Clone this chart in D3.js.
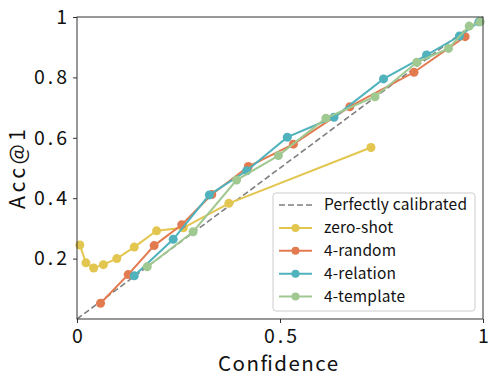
<!DOCTYPE html>
<html><head><meta charset="utf-8">
<script src="https://cdn.jsdelivr.net/npm/d3@7"></script>
<style>body{margin:0;background:#fff;} svg{display:block;font-family:"Noto Sans CJK JP","Noto Sans",sans-serif;}</style>
</head><body><svg id="c" width="498" height="383"></svg>
<script>
const zeroShotX = [0.007,0.022,0.041,0.065,0.098,0.141,0.196,0.262,0.374,0.724];
const zeroShotY = [0.245,0.186,0.169,0.180,0.200,0.238,0.292,0.302,0.383,0.568];
const randomX = [0.058,0.126,0.190,0.258,0.332,0.422,0.533,0.672,0.830,0.956];
const randomY = [0.052,0.147,0.243,0.312,0.412,0.505,0.579,0.703,0.817,0.935];
const relationX = [0.141,0.237,0.326,0.418,0.518,0.633,0.755,0.861,0.942,0.990];
const relationY = [0.143,0.264,0.411,0.491,0.602,0.668,0.795,0.874,0.937,0.984];
const templateX = [0.173,0.286,0.393,0.496,0.613,0.734,0.837,0.915,0.966,0.993];
const templateY = [0.173,0.289,0.460,0.541,0.665,0.736,0.850,0.896,0.970,0.984];
const xTicks = [0,0.5,1];
const yTicks = [0.2,0.4,0.6,0.8,1];
const seriesNames = ["zero-shot","4-random","4-relation","4-template"];
const seriesColors = ["#E3C64F","#E37B50","#4FB2BC","#A0C891"];

const series = [[zeroShotX,zeroShotY],[randomX,randomY],[relationX,relationY],[templateX,templateY]]
  .map((s,i)=>({name:seriesNames[i],color:seriesColors[i],pts:s[0].map((x,j)=>[x,s[1][j]])}));

const svg = d3.select("#c");
const x = d3.scaleLinear().domain([0,1]).range([77,483]);
const y = d3.scaleLinear().domain([0,1]).range([319,17]);
const fmt = d=> d===0?"0":d===1?"1":String(d);

svg.append("line").attr("x1",x(0)).attr("y1",y(0)).attr("x2",x(1)).attr("y2",y(1))
  .attr("stroke","#7f7f7f").attr("stroke-width",1.6).attr("stroke-dasharray","6,3");

const line = d3.line().x(d=>x(d[0])).y(d=>y(d[1]));
series.forEach(s=>{
  svg.append("path").attr("d",line(s.pts)).attr("fill","none").attr("stroke",s.color).attr("stroke-width",2);
  svg.selectAll(null).data(s.pts).enter().append("circle")
    .attr("cx",d=>x(d[0])).attr("cy",d=>y(d[1])).attr("r",4.5).attr("fill",s.color);
});

svg.append("rect").attr("x",77).attr("y",17).attr("width",406).attr("height",302)
  .attr("fill","none").attr("stroke","#333").attr("stroke-width",1);

const xa = svg.append("g").attr("transform","translate(0,319)")
  .call(d3.axisBottom(x).tickValues(xTicks).tickFormat(fmt).tickSize(4).tickPadding(6));
const ya = svg.append("g").attr("transform","translate(77,0)")
  .call(d3.axisLeft(y).tickValues(yTicks).tickFormat(fmt).tickSize(4).tickPadding(6));
[xa,ya].forEach(a=>{
  a.select(".domain").remove();
  a.selectAll(".tick line").attr("stroke","#333");
  a.selectAll("text").attr("font-size",19.5).attr("fill","#111").attr("font-family","Noto Sans CJK JP")
    .each(function(){ const t=d3.select(this); if(t.text().length>1) t.attr("textLength",33).attr("lengthAdjust","spacing"); });
});

svg.append("text").attr("x",278).attr("y",370.5).attr("text-anchor","middle")
  .attr("font-size",20.5).attr("fill","#111").attr("textLength",120).attr("lengthAdjust","spacing").text("Confidence");
svg.append("text").attr("transform","translate(25,169) rotate(-90)").attr("text-anchor","middle")
  .attr("font-size",21.5).attr("fill","#111").attr("textLength",80).attr("lengthAdjust","spacing").text("Acc@1");

const lg = svg.append("g");
lg.append("rect").attr("x",273).attr("y",193).attr("width",202).attr("height",118).attr("rx",3)
  .attr("fill","#fff").attr("fill-opacity",0.85).attr("stroke","#ccc").attr("stroke-width",1);
const items = [{name:"Perfectly calibrated",color:"#7f7f7f",dash:true}].concat(series);
const legendWidths = [143,69,72,72,81];
items.forEach((it,i)=>{
  const yy = 205 + i*22.9;
  lg.append("line").attr("x1",279).attr("x2",312).attr("y1",yy).attr("y2",yy)
    .attr("stroke",it.color).attr("stroke-width",it.dash?1.6:2).attr("stroke-dasharray",it.dash?"6,3":null);
  if(!it.dash) lg.append("circle").attr("cx",295.5).attr("cy",yy).attr("r",4).attr("fill",it.color);
  lg.append("text").attr("x",324).attr("y",yy).attr("dy","0.35em").attr("font-size",15.5).attr("fill","#111")
    .attr("textLength",legendWidths[i]).attr("lengthAdjust","spacing").text(it.name);
});
</script></body></html>
